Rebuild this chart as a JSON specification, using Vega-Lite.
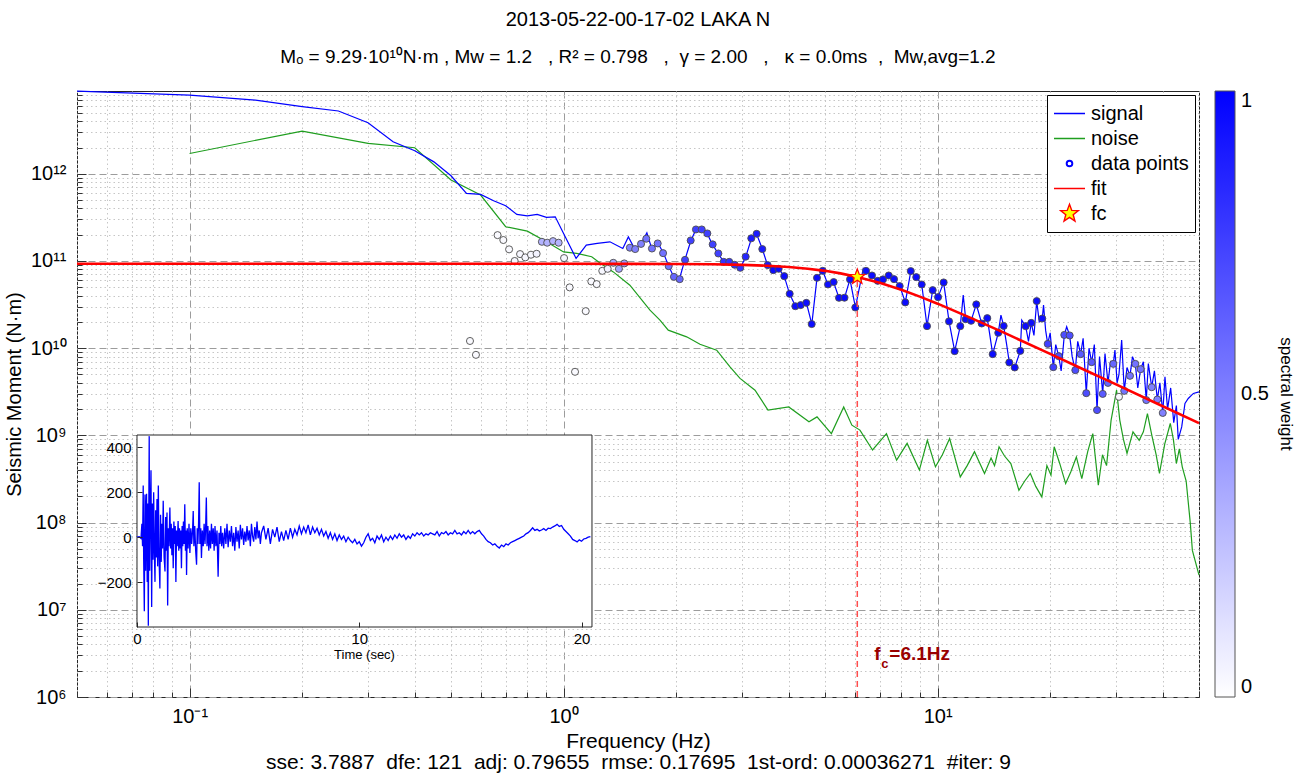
{
  "$schema": "https://vega.github.io/schema/vega-lite/v6.json",
  "width": 1122,
  "height": 606,
  "autosize": {"type": "none"},
  "padding": {"left": 77, "top": 91, "right": 102, "bottom": 79},
  "title": {
    "text": "2013-05-22-00-17-02 LAKA N",
    "subtitle": "Mₒ = 9.29·10¹⁰N·m , Mw = 1.2 \u00a0 , R² = 0.798 \u00a0 , \u00a0γ = 2.00 \u00a0 , \u00a0 κ = 0.0ms \u00a0, \u00a0Mw,avg=1.2",
    "anchor": "middle",
    "frame": "group",
    "fontSize": 20,
    "subtitleFontSize": 19,
    "fontWeight": "normal",
    "color": "#000000",
    "subtitleColor": "#000000",
    "offset": 18,
    "subtitlePadding": 18
  },
  "datasets": {
    "signal": [
      {"f":0.05,"M":8.85e12},{"f":0.1,"M":8.0e12},{"f":0.15,"M":7.0e12},{"f":0.2,"M":5.9e12},{"f":0.25,"M":5.25e12},{"f":0.3,"M":3.85e12},{"f":0.35,"M":2.33e12},{"f":0.4,"M":1.84e12},{"f":0.45,"M":1.37e12},{"f":0.5,"M":9.5e11},{"f":0.55,"M":5.96e11},{"f":0.6,"M":5.8e11},{"f":0.65,"M":4.9e11},{"f":0.7,"M":4.3e11},{"f":0.75,"M":3.42e11},{"f":0.8,"M":3.3e11},{"f":0.85,"M":3.42e11},{"f":0.9,"M":3.16e11},{"f":0.95,"M":3.21e11},{"f":1.0,"M":2.07e11},{"f":1.08,"M":1.07e11},{"f":1.15,"M":1.52e11},{"f":1.23,"M":1.59e11},{"f":1.33,"M":1.66e11},{"f":1.44,"M":1.39e11},{"f":1.49,"M":1.89e11},{"f":1.55,"M":1.37e11},{"f":1.61,"M":1.57e11},{"f":1.67,"M":2.1e11},{"f":1.72,"M":1.39e11},{"f":1.79,"M":1.59e11},{"f":1.85,"M":1.23e11},{"f":1.91,"M":8.73e10},{"f":1.97,"M":6.58e10},{"f":2.04,"M":6.19e10},{"f":2.11,"M":1.03e11},{"f":2.19,"M":1.72e11},{"f":2.26,"M":2.3e11},{"f":2.34,"M":2.3e11},{"f":2.42,"M":2.07e11},{"f":2.5,"M":1.55e11},{"f":2.59,"M":1.22e11},{"f":2.68,"M":9.77e10},{"f":2.77,"M":9.77e10},{"f":2.87,"M":9.04e10},{"f":2.97,"M":8.35e10},{"f":3.07,"M":1.12e11},{"f":3.18,"M":1.82e11},{"f":3.28,"M":2.05e11},{"f":3.4,"M":1.37e11},{"f":3.51,"M":8.97e10},{"f":3.64,"M":7.85e10},{"f":3.76,"M":8.13e10},{"f":3.89,"M":6.7e10},{"f":4.02,"M":4.2e10},{"f":4.17,"M":3.03e10},{"f":4.31,"M":3.12e10},{"f":4.46,"M":3.31e10},{"f":4.61,"M":1.89e10},{"f":4.76,"M":6.41e10},{"f":4.93,"M":7.71e10},{"f":5.09,"M":5.38e10},{"f":5.27,"M":5.73e10},{"f":5.45,"M":3.78e10},{"f":5.64,"M":3.79e10},{"f":5.83,"M":6.15e10},{"f":6.03,"M":2.93e10},{"f":6.33,"M":8.22e10},{"f":6.44,"M":7.71e10},{"f":6.68,"M":6.82e10},{"f":6.92,"M":5.92e10},{"f":7.15,"M":6.15e10},{"f":7.4,"M":6.82e10},{"f":7.65,"M":6.19e10},{"f":7.92,"M":5.15e10},{"f":8.2,"M":3.35e10},{"f":8.48,"M":7.66e10},{"f":8.77,"M":6.53e10},{"f":9.07,"M":5.38e10},{"f":9.37,"M":1.79e10},{"f":9.7,"M":4.63e10},{"f":10.03,"M":3.85e10},{"f":10.38,"M":5.68e10},{"f":10.73,"M":2.03e10},{"f":11.11,"M":9.25e9},{"f":11.5,"M":1.79e10},{"f":11.71,"M":4.06e10},{"f":11.89,"M":2.15e10},{"f":12.29,"M":2.06e10},{"f":12.69,"M":3.18e10},{"f":13.12,"M":1.92e10},{"f":13.58,"M":2.21e10},{"f":14.04,"M":8.55e9},{"f":14.53,"M":1.5e10},{"f":14.77,"M":2.39e10},{"f":15.02,"M":1.8e10},{"f":15.3,"M":1.1e10},{"f":15.55,"M":6.86e9},{"f":16.08,"M":6.01e9},{"f":16.64,"M":9.31e9},{"f":16.79,"M":2.1e10},{"f":17.2,"M":1.79e10},{"f":17.5,"M":1.2e10},{"f":17.8,"M":1.95e10},{"f":18.1,"M":1.4e10},{"f":18.41,"M":3.47e10},{"f":18.7,"M":2.0e10},{"f":19.05,"M":2.19e10},{"f":19.2,"M":3.12e10},{"f":19.45,"M":1.6e10},{"f":19.7,"M":1.12e10},{"f":20.0,"M":1.5e10},{"f":20.39,"M":6.06e9},{"f":20.7,"M":1.1e10},{"f":21.08,"M":8.11e9},{"f":21.4,"M":5.5e9},{"f":21.82,"M":1.42e10},{"f":22.14,"M":1.76e10},{"f":22.55,"M":1.4e10},{"f":22.9,"M":8.0e9},{"f":23.35,"M":5.6e9},{"f":23.7,"M":1.2e10},{"f":24.13,"M":8.55e9},{"f":24.5,"M":1.3e10},{"f":24.98,"M":3.05e9},{"f":25.4,"M":1.0e10},{"f":25.82,"M":6.92e9},{"f":26.25,"M":1.1e10},{"f":26.69,"M":1.95e9},{"f":27.1,"M":8.0e9},{"f":27.64,"M":2.99e9},{"f":28.03,"M":8.7e9},{"f":28.55,"M":4.0e9},{"f":29.0,"M":7.0e9},{"f":29.5,"M":6.61e9},{"f":29.8,"M":9.5e9},{"f":30.2,"M":4.0e9},{"f":30.55,"M":5.0e9},{"f":31.06,"M":1.24e10},{"f":31.56,"M":3.24e9},{"f":32.1,"M":6.0e9},{"f":32.69,"M":4.82e9},{"f":33.2,"M":8.0e9},{"f":33.78,"M":6.61e9},{"f":34.3,"M":3.5e9},{"f":34.91,"M":5.75e9},{"f":35.5,"M":7.0e9},{"f":36.14,"M":2.54e9},{"f":36.6,"M":6.68e9},{"f":37.37,"M":3.57e9},{"f":38.0,"M":5.5e9},{"f":38.68,"M":2.58e9},{"f":39.3,"M":4.0e9},{"f":40.0,"M":1.81e9},{"f":40.55,"M":4.69e9},{"f":41.2,"M":2.0e9},{"f":42.0,"M":3.5e9},{"f":42.8,"M":1.4e9},{"f":43.5,"M":2.2e9},{"f":44.0,"M":9.0e8},{"f":44.95,"M":1.25e9},{"f":45.86,"M":2.32e9},{"f":46.8,"M":2.65e9},{"f":48.3,"M":3.03e9},{"f":50,"M":3.16e9}
    ],
    "noise": [
      {"f":0.1,"M":1.71e12},{"f":0.2,"M":3.09e12},{"f":0.3,"M":2.23e12},{"f":0.4,"M":1.99e12},{"f":0.5,"M":8.5e11},{"f":0.6,"M":5.7e11},{"f":0.7,"M":2.47e11},{"f":0.8,"M":2.2e11},{"f":0.9,"M":1.66e11},{"f":1.0,"M":1.27e11},{"f":1.084,"M":1.22e11},{"f":1.189,"M":1.12e11},{"f":1.251,"M":9.5e10},{"f":1.358,"M":7.5e10},{"f":1.504,"M":5.28e10},{"f":1.702,"M":2.73e10},{"f":1.81,"M":2.1e10},{"f":1.905,"M":1.61e10},{"f":2.133,"M":1.35e10},{"f":2.316,"M":1.11e10},{"f":2.567,"M":9.5e9},{"f":2.786,"M":6.11e9},{"f":2.963,"M":4.5e9},{"f":3.25,"M":3.3e9},{"f":3.52,"M":1.95e9},{"f":4.0,"M":2.12e9},{"f":4.53,"M":1.43e9},{"f":4.76,"M":1.63e9},{"f":5.2,"M":1.05e9},{"f":5.61,"M":2.12e9},{"f":5.9,"M":1.31e9},{"f":6.2,"M":1.15e9},{"f":6.7,"M":6.8e8},{"f":7.3,"M":1.05e9},{"f":7.77,"M":5.2e8},{"f":8.29,"M":8.1e8},{"f":8.94,"M":4.0e8},{"f":9.39,"M":8.8e8},{"f":9.87,"M":4.36e8},{"f":10.3,"M":6.0e8},{"f":10.77,"M":9.2e8},{"f":11.5,"M":3.34e8},{"f":12.0,"M":4.5e8},{"f":12.55,"M":6.5e8},{"f":13.35,"M":3.66e8},{"f":13.9,"M":5.5e8},{"f":14.2,"M":4.5e8},{"f":14.6,"M":7.4e8},{"f":15.1,"M":5.8e8},{"f":15.7,"M":4.76e8},{"f":16.5,"M":2.35e8},{"f":17.1,"M":3.0e8},{"f":17.7,"M":3.66e8},{"f":18.3,"M":2.6e8},{"f":19.0,"M":1.97e8},{"f":19.6,"M":4.5e8},{"f":20.1,"M":3.5e8},{"f":20.5,"M":7.4e8},{"f":21.2,"M":4.8e8},{"f":22.0,"M":2.8e8},{"f":22.7,"M":3.8e8},{"f":23.5,"M":5.66e8},{"f":24.3,"M":3.2e8},{"f":25.2,"M":6.5e8},{"f":26.0,"M":1.05e9},{"f":26.9,"M":2.69e8},{"f":27.6,"M":6.0e8},{"f":28.3,"M":4.5e8},{"f":29.1,"M":1.49e9},{"f":30.1,"M":3.3e9},{"f":30.7,"M":1.5e9},{"f":31.4,"M":9.0e8},{"f":32.1,"M":6.2e8},{"f":33.3,"M":1.1e9},{"f":34.6,"M":8.8e8},{"f":35.5,"M":1.1e9},{"f":36.4,"M":1.78e9},{"f":37.4,"M":1.0e9},{"f":38.4,"M":6.0e8},{"f":39.2,"M":3.66e8},{"f":40.5,"M":8.0e8},{"f":41.9,"M":1.37e9},{"f":42.7,"M":9.0e8},{"f":43.5,"M":4.76e8},{"f":44.3,"M":7.0e8},{"f":45.1,"M":4.36e8},{"f":46.2,"M":3.0e8},{"f":47.4,"M":9.8e7},{"f":48.0,"M":4.8e7},{"f":50,"M":2.5e7}
    ],
    "fit": [
      {"f":0.05,"M":9.29e10},{"f":0.5,"M":9.29e10},{"f":1,"M":9.287e10},{"f":1.5,"M":9.27e10},{"f":2,"M":9.237e10},{"f":2.5,"M":9.16e10},{"f":3,"M":9.03e10},{"f":3.5,"M":8.82e10},{"f":4,"M":8.535e10},{"f":4.5,"M":8.16e10},{"f":5,"M":7.71e10},{"f":5.5,"M":7.21e10},{"f":6.1,"M":6.57e10},{"f":7,"M":5.62e10},{"f":8,"M":4.67e10},{"f":9,"M":3.88e10},{"f":10,"M":3.24e10},{"f":12,"M":2.32e10},{"f":15,"M":1.516e10},{"f":20,"M":8.6e9},{"f":25,"M":5.52e9},{"f":30,"M":3.84e9},{"f":40,"M":2.16e9},{"f":50,"M":1.38e9}
    ],
    "points": [
      {"f":0.562,"M":1.21e10,"w":0.02},{"f":0.583,"M":8.39e9,"w":0.02},{"f":0.666,"M":1.98e11,"w":0.02},{"f":0.69,"M":1.74e11,"w":0.02},{"f":0.715,"M":1.36e11,"w":0.02},{"f":0.74,"M":1.0e11,"w":0.03},{"f":0.765,"M":1.2e11,"w":0.03},{"f":0.79,"M":1.1e11,"w":0.03},{"f":0.818,"M":1.18e11,"w":0.03},{"f":0.847,"M":1.21e11,"w":0.05},
      {"f":0.875,"M":1.66e11,"w":0.3},{"f":0.904,"M":1.62e11,"w":0.3},{"f":0.937,"M":1.69e11,"w":0.3},{"f":0.97,"M":1.62e11,"w":0.3},{"f":1.003,"M":1.08e11,"w":0.03},{"f":1.038,"M":4.98e10,"w":0.02},{"f":1.073,"M":5.36e9,"w":0.02},{"f":1.146,"M":2.66e10,"w":0.02},{"f":1.186,"M":5.83e10,"w":0.02},{"f":1.226,"M":5.43e10,"w":0.02},
      {"f":1.269,"M":7.71e10,"w":0.03},{"f":1.312,"M":8.13e10,"w":0.05},{"f":1.358,"M":9.53e10,"w":0.35},{"f":1.406,"M":8.13e10,"w":0.35},{"f":1.453,"M":9.38e10,"w":0.4},{"f":1.504,"M":1.42e11,"w":0.5},{"f":1.554,"M":1.37e11,"w":0.5},{"f":1.611,"M":1.57e11,"w":0.5},{"f":1.664,"M":1.8e11,"w":0.55},{"f":1.723,"M":1.39e11,"w":0.55},
      {"f":1.785,"M":1.59e11,"w":0.55},{"f":1.845,"M":1.23e11,"w":0.55},{"f":1.91,"M":8.73e10,"w":0.55},{"f":1.973,"M":6.58e10,"w":0.6},{"f":2.044,"M":6.19e10,"w":0.6},{"f":2.112,"M":1.03e11,"w":0.75},{"f":2.187,"M":1.72e11,"w":0.75},{"f":2.259,"M":2.3e11,"w":0.75},{"f":2.341,"M":2.3e11,"w":0.75},{"f":2.423,"M":2.07e11,"w":0.75},
      {"f":2.504,"M":1.55e11,"w":0.75},{"f":2.593,"M":1.22e11,"w":0.75},{"f":2.68,"M":9.77e10,"w":0.8},{"f":2.773,"M":9.77e10,"w":0.8},{"f":2.868,"M":9.04e10,"w":0.8},{"f":2.968,"M":8.35e10,"w":0.8},{"f":3.068,"M":1.12e11,"w":0.85},{"f":3.176,"M":1.82e11,"w":0.9},{"f":3.282,"M":2.05e11,"w":0.9},{"f":3.399,"M":1.37e11,"w":0.9},
      {"f":3.513,"M":8.97e10,"w":0.9},{"f":3.637,"M":7.85e10,"w":0.95},{"f":3.759,"M":8.13e10,"w":0.95},{"f":3.891,"M":6.7e10,"w":0.95},{"f":4.023,"M":4.2e10,"w":0.95},{"f":4.165,"M":3.03e10,"w":0.95},{"f":4.305,"M":3.12e10,"w":0.95},{"f":4.457,"M":3.31e10,"w":0.95},{"f":4.607,"M":1.89e10,"w":0.95},{"f":4.76,"M":6.41e10,"w":0.95},
      {"f":4.93,"M":7.71e10,"w":0.95},{"f":5.093,"M":5.38e10,"w":0.95},{"f":5.274,"M":5.73e10,"w":0.95},{"f":5.45,"M":3.78e10,"w":0.95},{"f":5.637,"M":3.79e10,"w":0.95},{"f":5.833,"M":6.15e10,"w":0.95},{"f":6.026,"M":2.93e10,"w":0.95},{"f":6.437,"M":7.71e10,"w":0.95},{"f":6.677,"M":6.82e10,"w":0.95},{"f":6.917,"M":5.92e10,"w":0.95},
      {"f":7.145,"M":6.15e10,"w":0.95},{"f":7.401,"M":6.82e10,"w":0.95},{"f":7.647,"M":6.19e10,"w":0.95},{"f":7.919,"M":5.15e10,"w":0.95},{"f":8.196,"M":3.35e10,"w":0.95},{"f":8.477,"M":7.66e10,"w":0.95},{"f":8.77,"M":6.53e10,"w":0.95},{"f":9.069,"M":5.38e10,"w":0.95},{"f":9.369,"M":1.79e10,"w":0.95},{"f":9.703,"M":4.63e10,"w":0.95},
      {"f":10.03,"M":3.85e10,"w":0.95},{"f":10.38,"M":5.68e10,"w":0.95},{"f":10.73,"M":2.03e10,"w":0.95},{"f":11.11,"M":9.25e9,"w":0.95},{"f":11.5,"M":1.79e10,"w":0.95},{"f":11.89,"M":2.15e10,"w":0.95},{"f":12.29,"M":2.06e10,"w":0.95},{"f":12.69,"M":3.18e10,"w":0.95},{"f":13.12,"M":1.92e10,"w":0.95},{"f":13.58,"M":2.21e10,"w":0.95},
      {"f":14.04,"M":8.55e9,"w":0.95},{"f":14.53,"M":1.5e10,"w":0.95},{"f":15.02,"M":1.8e10,"w":0.95},{"f":15.55,"M":6.86e9,"w":0.95},{"f":16.08,"M":6.01e9,"w":0.95},{"f":16.64,"M":9.31e9,"w":0.95},{"f":17.2,"M":1.79e10,"w":0.95},{"f":17.8,"M":1.95e10,"w":0.95},{"f":18.41,"M":3.47e10,"w":0.95},{"f":19.05,"M":2.19e10,"w":0.95},
      {"f":19.7,"M":1.12e10,"w":0.75},{"f":20.39,"M":6.06e9,"w":0.75},{"f":21.08,"M":8.11e9,"w":0.7},{"f":21.82,"M":1.42e10,"w":0.7},{"f":22.55,"M":1.4e10,"w":0.7},{"f":23.35,"M":5.6e9,"w":0.7},{"f":24.13,"M":8.55e9,"w":0.65},{"f":24.98,"M":3.05e9,"w":0.7},{"f":25.82,"M":6.92e9,"w":0.65},{"f":26.69,"M":1.95e9,"w":0.7},
      {"f":27.64,"M":2.99e9,"w":0.65},{"f":28.55,"M":4.0e9,"w":0.6},{"f":29.5,"M":6.61e9,"w":0.6},{"f":30.55,"M":2.77e9,"w":0.02},{"f":31.56,"M":3.24e9,"w":0.55},{"f":32.69,"M":4.82e9,"w":0.55},{"f":33.78,"M":6.61e9,"w":0.55},{"f":34.91,"M":5.75e9,"w":0.55},{"f":36.14,"M":2.54e9,"w":0.55},{"f":37.37,"M":3.57e9,"w":0.5},
      {"f":38.68,"M":2.58e9,"w":0.5},{"f":40.0,"M":1.81e9,"w":0.5}
    ],
    "marker": [
      {"f":6.1,"M":6.57e10,"lo":1e6}
    ],
    "frame": [
      {"t0":0,"t1":20.47,"a0":-400,"a1":455}
    ],
    "inset": [
      {"t":0,"a":0},{"t":0.1,"a":2},{"t":0.18,"a":-5},{"t":0.22,"a":60},{"t":0.25,"a":-40},{"t":0.28,"a":230},{"t":0.3,"a":-90},{"t":0.33,"a":-330},{"t":0.36,"a":190},{"t":0.39,"a":-150},{"t":0.41,"a":120},{"t":0.43,"a":193},{"t":0.46,"a":-200},{"t":0.48,"a":150},{"t":0.51,"a":-394},{"t":0.53,"a":100},{"t":0.55,"a":450},{"t":0.57,"a":-150},{"t":0.6,"a":120},{"t":0.63,"a":298},{"t":0.66,"a":-311},{"t":0.69,"a":150},{"t":0.72,"a":-100},{"t":0.75,"a":200},{"t":0.78,"a":-60},{"t":0.81,"a":-199},{"t":0.84,"a":120},{"t":0.87,"a":-90},{"t":0.9,"a":170},{"t":0.93,"a":-130},{"t":0.96,"a":230},{"t":0.99,"a":-80},{"t":1.03,"a":-229},{"t":1.06,"a":100},{"t":1.09,"a":-110},{"t":1.12,"a":60},{"t":1.15,"a":-50},{"t":1.18,"a":162},{"t":1.22,"a":-90},{"t":1.26,"a":-153},{"t":1.29,"a":90},{"t":1.32,"a":-60},{"t":1.35,"a":110},{"t":1.38,"a":-304},{"t":1.41,"a":40},{"t":1.44,"a":-40},{"t":1.48,"a":132},{"t":1.51,"a":-50},{"t":1.54,"a":60},{"t":1.57,"a":-80},{"t":1.6,"a":40},{"t":1.63,"a":-138},{"t":1.66,"a":70},{"t":1.69,"a":-30},{"t":1.72,"a":50},{"t":1.75,"a":-199},{"t":1.78,"a":30},{"t":1.81,"a":-40},{"t":1.85,"a":72},{"t":1.88,"a":-60},{"t":1.91,"a":40},{"t":1.94,"a":-50},{"t":1.97,"a":30},{"t":2.0,"a":-138},{"t":2.03,"a":50},{"t":2.06,"a":-40},{"t":2.09,"a":70},{"t":2.12,"a":-30},{"t":2.15,"a":147},{"t":2.18,"a":-60},{"t":2.21,"a":30},{"t":2.23,"a":-168},{"t":2.26,"a":40},{"t":2.3,"a":-50},{"t":2.34,"a":60},{"t":2.38,"a":-70},{"t":2.42,"a":40},{"t":2.46,"a":-30},{"t":2.5,"a":30},{"t":2.53,"a":117},{"t":2.56,"a":-40},{"t":2.6,"a":50},{"t":2.64,"a":-60},{"t":2.68,"a":-123},{"t":2.71,"a":40},{"t":2.74,"a":-30},{"t":2.77,"a":60},{"t":2.8,"a":245},{"t":2.83,"a":-30},{"t":2.87,"a":40},{"t":2.9,"a":-93},{"t":2.94,"a":30},{"t":2.98,"a":-40},{"t":3.02,"a":60},{"t":3.06,"a":-30},{"t":3.09,"a":50},{"t":3.12,"a":177},{"t":3.15,"a":-40},{"t":3.19,"a":50},{"t":3.23,"a":-60},{"t":3.27,"a":30},{"t":3.31,"a":-50},{"t":3.35,"a":60},{"t":3.39,"a":-30},{"t":3.43,"a":40},{"t":3.47,"a":-60},{"t":3.51,"a":50},{"t":3.55,"a":-40},{"t":3.6,"a":30},{"t":3.65,"a":-176},{"t":3.69,"a":20},{"t":3.73,"a":-30},{"t":3.77,"a":50},{"t":3.81,"a":-40},{"t":3.85,"a":20},{"t":3.9,"a":-50},{"t":3.95,"a":40},{"t":4.0,"a":-30},{"t":4.05,"a":60},{"t":4.1,"a":-45},{"t":4.15,"a":30},{"t":4.2,"a":-20},{"t":4.25,"a":50},{"t":4.3,"a":-40},{"t":4.35,"a":20},{"t":4.4,"a":-60},{"t":4.45,"a":45},{"t":4.5,"a":-20},{"t":4.55,"a":30},{"t":4.6,"a":-50},{"t":4.65,"a":55},{"t":4.7,"a":-10},{"t":4.75,"a":40},{"t":4.8,"a":-35},{"t":4.85,"a":25},{"t":4.9,"a":-20},{"t":4.95,"a":50},{"t":5.0,"a":-15},{"t":5.05,"a":30},{"t":5.1,"a":-40},{"t":5.15,"a":60},{"t":5.2,"a":5},{"t":5.25,"a":-20},{"t":5.3,"a":45},{"t":5.35,"a":-10},{"t":5.4,"a":70},{"t":5.45,"a":-5},{"t":5.5,"a":30},{"t":5.55,"a":-30},{"t":5.6,"a":20},{"t":5.7,"a":50},{"t":5.8,"a":-10},{"t":5.9,"a":40},{"t":6.0,"a":-30},{"t":6.1,"a":35},{"t":6.2,"a":0},{"t":6.3,"a":45},{"t":6.4,"a":-20},{"t":6.5,"a":25},{"t":6.6,"a":-15},{"t":6.7,"a":30},{"t":6.8,"a":-10},{"t":6.9,"a":40},{"t":7.0,"a":0},{"t":7.1,"a":35},{"t":7.2,"a":10},{"t":7.3,"a":50},{"t":7.4,"a":15},{"t":7.5,"a":45},{"t":7.6,"a":20},{"t":7.7,"a":55},{"t":7.8,"a":10},{"t":7.9,"a":45},{"t":8.0,"a":20},{"t":8.1,"a":40},{"t":8.2,"a":10},{"t":8.3,"a":35},{"t":8.4,"a":5},{"t":8.5,"a":25},{"t":8.6,"a":-5},{"t":8.7,"a":20},{"t":8.8,"a":-10},{"t":8.9,"a":15},{"t":9.0,"a":-15},{"t":9.1,"a":10},{"t":9.2,"a":-10},{"t":9.3,"a":5},{"t":9.4,"a":-20},{"t":9.5,"a":0},{"t":9.6,"a":-15},{"t":9.7,"a":-25},{"t":9.8,"a":-10},{"t":9.9,"a":-30},{"t":10.0,"a":-20},{"t":10.1,"a":-40},{"t":10.2,"a":-25},{"t":10.3,"a":0},{"t":10.4,"a":15},{"t":10.5,"a":-15},{"t":10.6,"a":-5},{"t":10.7,"a":-25},{"t":10.8,"a":5},{"t":10.9,"a":-10},{"t":11.0,"a":10},{"t":11.1,"a":-20},{"t":11.2,"a":0},{"t":11.3,"a":-15},{"t":11.4,"a":5},{"t":11.5,"a":-10},{"t":11.6,"a":10},{"t":11.7,"a":-5},{"t":11.8,"a":15},{"t":11.9,"a":0},{"t":12.0,"a":10},{"t":12.1,"a":-10},{"t":12.2,"a":5},{"t":12.3,"a":-5},{"t":12.4,"a":15},{"t":12.5,"a":5},{"t":12.6,"a":20},{"t":12.7,"a":10},{"t":12.8,"a":20},{"t":12.9,"a":5},{"t":13.0,"a":15},{"t":13.1,"a":10},{"t":13.2,"a":20},{"t":13.3,"a":15},{"t":13.4,"a":10},{"t":13.5,"a":25},{"t":13.6,"a":5},{"t":13.7,"a":20},{"t":13.8,"a":15},{"t":13.9,"a":25},{"t":14.0,"a":10},{"t":14.1,"a":20},{"t":14.2,"a":15},{"t":14.3,"a":30},{"t":14.4,"a":15},{"t":14.5,"a":20},{"t":14.6,"a":10},{"t":14.7,"a":25},{"t":14.8,"a":15},{"t":14.9,"a":30},{"t":15.0,"a":15},{"t":15.1,"a":25},{"t":15.2,"a":15},{"t":15.3,"a":25},{"t":15.4,"a":30},{"t":15.5,"a":15},{"t":15.6,"a":5},{"t":15.7,"a":-10},{"t":15.8,"a":-20},{"t":15.9,"a":-25},{"t":16.0,"a":-35},{"t":16.1,"a":-30},{"t":16.2,"a":-40},{"t":16.3,"a":-48},{"t":16.4,"a":-35},{"t":16.5,"a":-42},{"t":16.6,"a":-30},{"t":16.7,"a":-35},{"t":16.8,"a":-25},{"t":16.9,"a":-20},{"t":17.0,"a":-15},{"t":17.1,"a":-10},{"t":17.2,"a":-5},{"t":17.3,"a":0},{"t":17.4,"a":5},{"t":17.5,"a":15},{"t":17.6,"a":20},{"t":17.7,"a":30},{"t":17.8,"a":42},{"t":17.9,"a":30},{"t":18.0,"a":35},{"t":18.1,"a":28},{"t":18.2,"a":32},{"t":18.3,"a":38},{"t":18.4,"a":30},{"t":18.5,"a":40},{"t":18.6,"a":38},{"t":18.7,"a":45},{"t":18.8,"a":50},{"t":18.9,"a":57},{"t":19.0,"a":48},{"t":19.1,"a":52},{"t":19.2,"a":35},{"t":19.3,"a":25},{"t":19.4,"a":15},{"t":19.5,"a":5},{"t":19.6,"a":-10},{"t":19.7,"a":-15},{"t":19.8,"a":-21},{"t":19.9,"a":-12},{"t":20.0,"a":-18},{"t":20.1,"a":-8},{"t":20.2,"a":-5},{"t":20.3,"a":0},{"t":20.4,"a":3}
    ]
  },
  "layer": [
    {
      "layer": [
        {
          "data": {"name": "noise"},
          "mark": {"type": "line", "strokeWidth": 1.2},
          "encoding": {
            "x": {
              "field": "f", "type": "quantitative",
              "scale": {"type": "log", "domain": [0.05, 50], "nice": false},
              "axis": {
                "orient": "bottom",
                "values": [0.05,0.06,0.07,0.08,0.09,0.1,0.2,0.3,0.4,0.5,0.6,0.7,0.8,0.9,1,2,3,4,5,6,7,8,9,10,20,30,40,50],
                "labelExpr": "datum.value == 0.1 ? '10⁻¹' : datum.value == 1 ? '10⁰' : datum.value == 10 ? '10¹' : ''",
                "labelFontSize": 20, "labelPadding": 18, "labelOverlap": false, "labelFlush": false, "labelBound": false,
                "ticks": true, "tickColor": "#333333", "tickWidth": 1,
                "tickSize": {"condition": {"test": "datum.value == 0.1 || datum.value == 1 || datum.value == 10", "value": -9}, "value": -5},
                "domain": false, "grid": true,
                "gridColor": {"condition": {"test": "datum.value == 0.1 || datum.value == 1 || datum.value == 10", "value": "#9c9c9c"}, "value": "#c6c6c6"},
                "gridDash": {"condition": {"test": "datum.value == 0.1 || datum.value == 1 || datum.value == 10", "value": [7, 4]}, "value": [1.5, 3]},
                "gridWidth": 1,
                "title": ["Frequency (Hz)", "sse: 3.7887 \u00a0dfe: 121 \u00a0adj: 0.79655 \u00a0rmse: 0.17695 \u00a01st-ord: 0.00036271 \u00a0#iter: 9"],
                "titleFontSize": 21, "titlePadding": 0, "titleLineHeight": 21
              }
            },
            "y": {
              "field": "M", "type": "quantitative",
              "scale": {"type": "log", "domain": [1e6, 8.9e12], "nice": false},
              "axis": {
                "orient": "left",
                "values": [1e6,2e6,3e6,4e6,5e6,6e6,7e6,8e6,9e6,1e7,2e7,3e7,4e7,5e7,6e7,7e7,8e7,9e7,1e8,2e8,3e8,4e8,5e8,6e8,7e8,8e8,9e8,1e9,2e9,3e9,4e9,5e9,6e9,7e9,8e9,9e9,1e10,2e10,3e10,4e10,5e10,6e10,7e10,8e10,9e10,1e11,2e11,3e11,4e11,5e11,6e11,7e11,8e11,9e11,1e12,2e12,3e12,4e12,5e12,6e12,7e12,8e12],
                "labelExpr": "datum.value == 1e6 ? '10⁶' : datum.value == 1e7 ? '10⁷' : datum.value == 1e8 ? '10⁸' : datum.value == 1e9 ? '10⁹' : datum.value == 1e10 ? '10¹⁰' : datum.value == 1e11 ? '10¹¹' : datum.value == 1e12 ? '10¹²' : ''",
                "labelFontSize": 20, "labelPadding": 20, "labelOverlap": false, "labelBound": false,
                "ticks": true, "tickColor": "#333333", "tickWidth": 1,
                "tickSize": {"condition": {"test": "indexof([1e6,1e7,1e8,1e9,1e10,1e11,1e12], datum.value) >= 0", "value": -9}, "value": -5},
                "domain": false, "grid": true,
                "gridColor": {"condition": {"test": "indexof([1e6,1e7,1e8,1e9,1e10,1e11,1e12], datum.value) >= 0", "value": "#9c9c9c"}, "value": "#c6c6c6"},
                "gridDash": {"condition": {"test": "indexof([1e6,1e7,1e8,1e9,1e10,1e11,1e12], datum.value) >= 0", "value": [7, 4]}, "value": [1.5, 3]},
                "gridWidth": 1,
                "title": "Seismic Moment (N·m)",
                "titleFontSize": 20, "titlePadding": 6
              }
            },
            "stroke": {
              "datum": "noise", "type": "nominal",
              "scale": {"domain": ["signal", "noise", "data points", "fit", "fc"], "range": ["#0000ff", "#1f9e1f", "#0000ff", "#ff0000", "#ff0000"]},
              "legend": {
                "orient": "top-right", "offset": 4, "title": null,
                "strokeColor": "#000000", "fillColor": "#ffffff", "padding": 6,
                "labelFontSize": 20, "labelColor": "#000000", "labelOffset": 5, "labelLimit": 0,
                "symbolSize": 961, "clipHeight": 25, "rowPadding": 0, "symbolStrokeWidth": 1.4
              }
            }
          }
        },
        {
          "data": {"name": "signal"},
          "mark": {"type": "line", "strokeWidth": 1.2},
          "encoding": {
            "x": {"field": "f", "type": "quantitative"},
            "y": {"field": "M", "type": "quantitative"},
            "stroke": {"datum": "signal", "type": "nominal"}
          }
        },
        {
          "data": {"name": "points"},
          "mark": {"type": "point", "filled": true, "size": 50, "opacity": 1, "stroke": "#4d4d4d", "strokeWidth": 0.9},
          "encoding": {
            "x": {"field": "f", "type": "quantitative"},
            "y": {"field": "M", "type": "quantitative"},
            "fill": {
              "field": "w", "type": "quantitative",
              "scale": {"domain": [0, 1], "range": ["#ffffff", "#0000ff"], "interpolate": "rgb"},
              "legend": {
                "type": "gradient", "orient": "none", "legendX": 1138, "legendY": 0,
                "direction": "vertical", "gradientLength": 606, "gradientThickness": 20,
                "gradientStrokeColor": "#555555", "gradientStrokeWidth": 1,
                "values": [0, 0.5, 1], "format": "~g",
                "labelFontSize": 20, "labelOffset": 6, "labelColor": "#000000",
                "title": "spectral weight", "titleOrient": "right", "titleAnchor": "middle",
                "titleFontSize": 17, "titlePadding": 8, "padding": 0
              }
            }
          }
        },
        {
          "data": {"name": "fit"},
          "mark": {"type": "line", "strokeWidth": 2.6},
          "encoding": {
            "x": {"field": "f", "type": "quantitative"},
            "y": {"field": "M", "type": "quantitative"},
            "stroke": {"datum": "fit", "type": "nominal"}
          }
        },
        {
          "data": {"name": "marker"},
          "mark": {"type": "rule", "color": "#ff4d4d", "strokeDash": [6, 4], "strokeWidth": 1.5},
          "encoding": {
            "x": {"field": "f", "type": "quantitative"},
            "y": {"field": "lo", "type": "quantitative"},
            "y2": {"field": "M"}
          }
        },
        {
          "data": {"name": "marker"},
          "mark": {"type": "point", "filled": true, "size": 690, "fill": "#ffff00", "strokeWidth": 1.2, "opacity": 1},
          "encoding": {
            "x": {"field": "f", "type": "quantitative"},
            "y": {"field": "M", "type": "quantitative"},
            "stroke": {"datum": "fc", "type": "nominal"},
            "shape": {
              "datum": "fc", "type": "nominal",
              "scale": {"domain": ["signal", "noise", "data points", "fit", "fc"], "range": ["stroke", "stroke", "M0.2,0A0.2,0.2,0,1,1,-0.2,0A0.2,0.2,0,1,1,0.2,0ZM0.165,0A0.165,0.165,0,1,0,-0.165,0A0.165,0.165,0,1,0,0.165,0Z", "stroke", "M0,-0.6L0.147,-0.202L0.571,-0.185L0.238,0.077L0.353,0.485L0,0.25L-0.353,0.485L-0.238,0.077L-0.571,-0.185L-0.147,-0.202Z"]},
              "legend": {
                "orient": "top-right", "offset": 4, "title": null,
                "strokeColor": "#000000", "fillColor": "#ffffff", "padding": 6,
                "labelFontSize": 20, "labelColor": "#000000", "labelOffset": 5, "labelLimit": 0,
                "symbolSize": 961, "clipHeight": 25, "rowPadding": 0, "symbolStrokeWidth": 1.4
              }
            }
          }
        },
        {
          "data": {"name": "marker"},
          "mark": {"type": "text", "text": "f", "align": "left", "baseline": "alphabetic", "dx": 17, "dy": -37, "fontSize": 19, "fontWeight": "bold", "color": "#990000"},
          "encoding": {
            "x": {"field": "f", "type": "quantitative"},
            "y": {"field": "lo", "type": "quantitative"}
          }
        },
        {
          "data": {"name": "marker"},
          "mark": {"type": "text", "text": "c", "align": "left", "baseline": "alphabetic", "dx": 24, "dy": -29, "fontSize": 13, "fontWeight": "bold", "color": "#990000"},
          "encoding": {
            "x": {"field": "f", "type": "quantitative"},
            "y": {"field": "lo", "type": "quantitative"}
          }
        },
        {
          "data": {"name": "marker"},
          "mark": {"type": "text", "text": "=6.1Hz", "align": "left", "baseline": "alphabetic", "dx": 32, "dy": -37, "fontSize": 19, "fontWeight": "bold", "color": "#990000"},
          "encoding": {
            "x": {"field": "f", "type": "quantitative"},
            "y": {"field": "lo", "type": "quantitative"}
          }
        }
      ]
    },
    {
      "layer": [
        {
          "data": {"name": "frame"},
          "mark": {"type": "rect", "fill": "#ffffff", "stroke": "#262626", "strokeWidth": 1},
          "encoding": {
            "x": {
              "field": "t0", "type": "quantitative",
              "scale": {"domain": [-2.699, 47.78], "nice": false, "zero": false},
              "axis": {
                "orient": "bottom", "offset": -70, "values": [0, 10, 20], "format": "d",
                "labelFontSize": 15, "labelPadding": 9, "labelFlush": false, "labelColor": "#000000",
                "ticks": true, "tickSize": -5, "tickColor": "#262626", "domain": false, "grid": false,
                "title": "Time (sec)", "titleFontSize": 13, "titlePadding": 2, "titleX": 287, "zindex": 2
              }
            },
            "x2": {"field": "t1"},
            "y": {
              "field": "a0", "type": "quantitative",
              "scale": {"domain": [-711.7, 1986.9], "nice": false, "zero": false},
              "axis": {
                "orient": "left", "offset": -60, "values": [-200, 0, 200, 400], "format": "d",
                "labelFontSize": 15, "labelPadding": 11, "labelColor": "#000000",
                "ticks": true, "tickSize": -5, "tickColor": "#262626", "domain": false, "grid": false,
                "title": null, "zindex": 2
              }
            },
            "y2": {"field": "a1"}
          }
        },
        {
          "data": {"name": "inset"},
          "mark": {"type": "line", "color": "#0000ff", "strokeWidth": 1.3},
          "encoding": {
            "x": {"field": "t", "type": "quantitative"},
            "y": {"field": "a", "type": "quantitative"}
          }
        }
      ]
    }
  ],
  "resolve": {
    "scale": {"x": "independent", "y": "independent"},
    "axis": {"x": "independent", "y": "independent"}
  },
  "config": {
    "font": "Liberation Sans",
    "view": {"stroke": "#262626", "strokeWidth": 1},
    "axis": {"labelColor": "#000000", "titleColor": "#000000", "titleFontWeight": "normal", "labelFont": "Liberation Sans", "titleFont": "Liberation Sans"},
    "legend": {"labelColor": "#000000", "titleColor": "#000000", "titleFontWeight": "normal", "labelFont": "Liberation Sans", "titleFont": "Liberation Sans"},
    "title": {"font": "Liberation Sans", "subtitleFont": "Liberation Sans"}
  }
}
